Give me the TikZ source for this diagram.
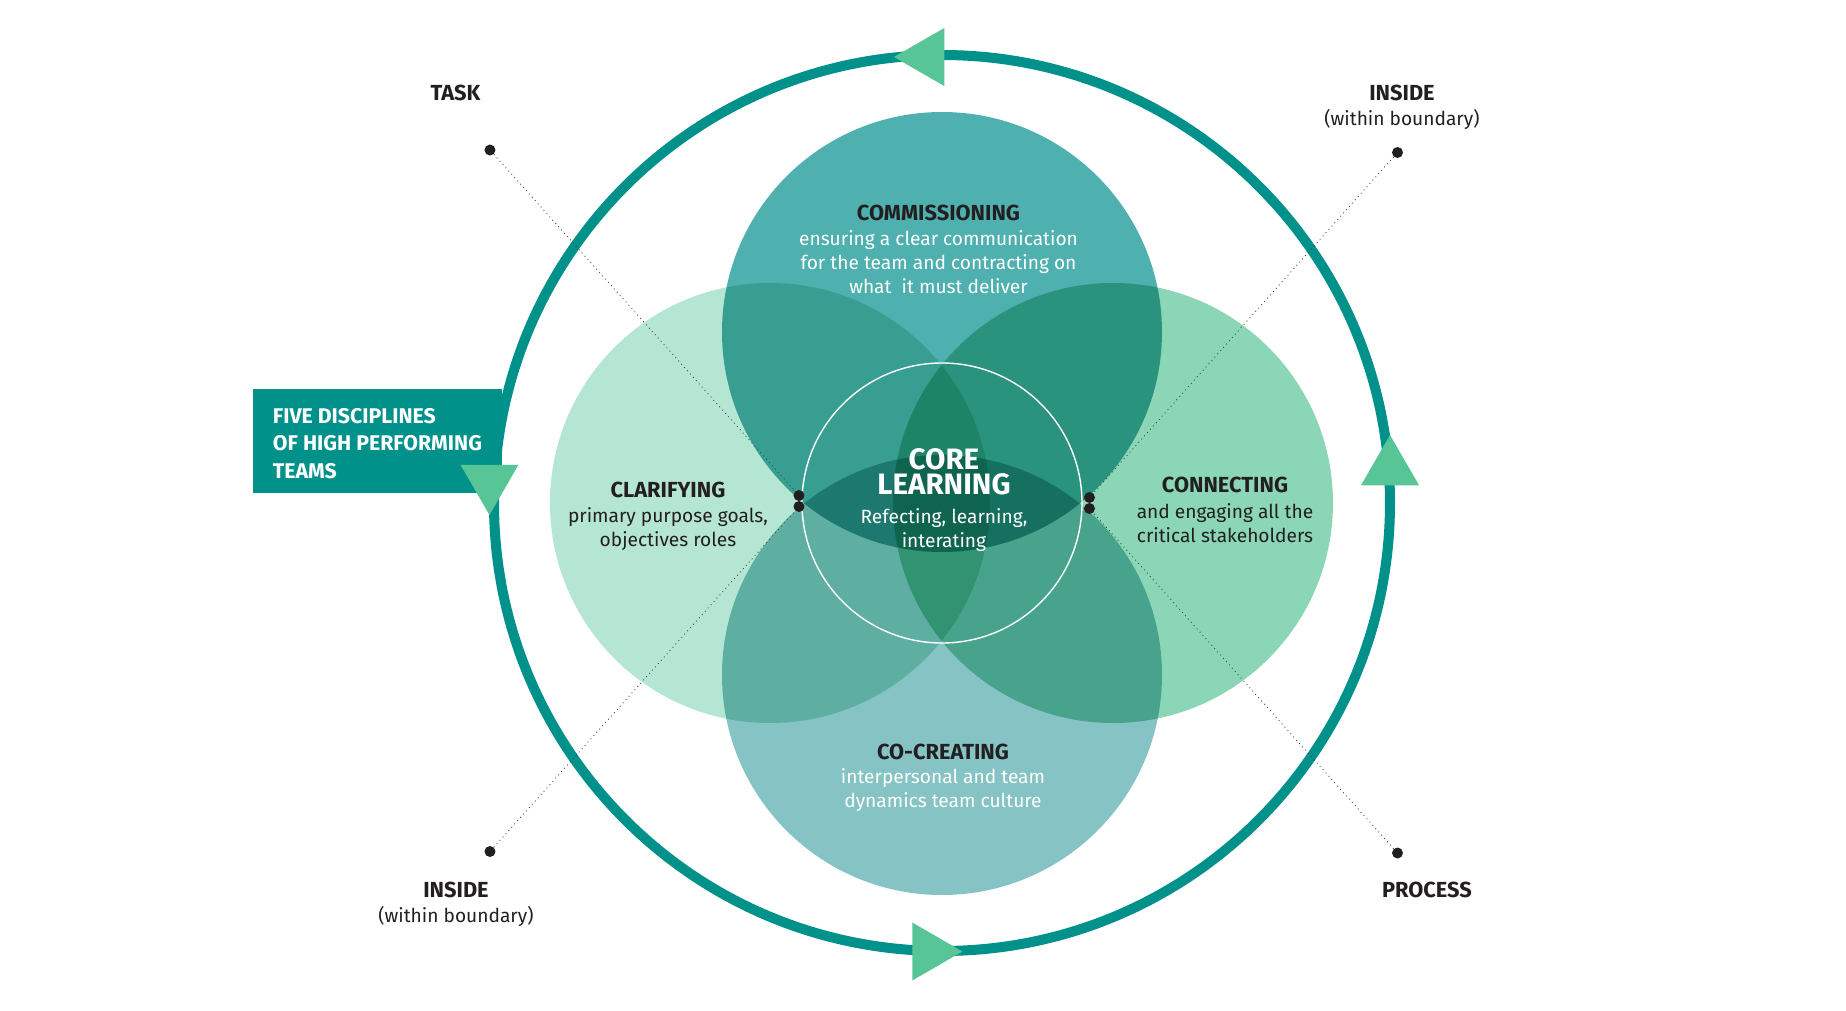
\documentclass[tikz,border=0pt]{standalone}
\usepackage{fontspec}
\setmainfont{Fira Sans}
\usepackage{xcolor}
\usepackage{tikz}
\usetikzlibrary{shapes.geometric, positioning}

\definecolor{ringteal}{HTML}{00918B}
\definecolor{arrowgreen}{HTML}{58C597}
\definecolor{commcol}{HTML}{4FB0B0}
\definecolor{clarcol}{HTML}{B5E6D3}
\definecolor{conncol}{HTML}{8AD6B6}
\definecolor{cocrcol}{HTML}{85C3C4}
\definecolor{ink}{HTML}{231F20}

\begin{document}
\begin{tikzpicture}[
    disc_style/.style={circle, minimum size=8.8cm, inner sep=0pt, outer sep=0pt},
    ring_style/.style={circle, draw=ringteal, line width=5.7pt, minimum size=17.92cm, inner sep=0pt},
    core_style/.style={circle, draw=white, line width=0.8pt, minimum size=5.6cm, inner sep=0pt},
    tri_style/.style={regular polygon, regular polygon sides=3, fill=arrowgreen, minimum size=1.34cm, inner sep=0pt},
    dot_style/.style={circle, fill=ink, minimum size=0.22cm, inner sep=0pt},
    guide_style/.style={draw=ink!85, dotted, line width=0.5pt},
    title_style/.style={font=\bfseries\fontsize{12.4}{14}\selectfont, text=ink, inner sep=0pt},
    core_title_style/.style={font=\bfseries\fontsize{16.8}{17}\selectfont, text=white, inner sep=0pt},
    body_style/.style={font=\fontsize{10.9}{13.7}\selectfont, align=center, inner sep=0pt},
    box_style/.style={rectangle, fill=ringteal, minimum width=4.98cm, minimum height=2.08cm, inner sep=0pt},
    box_text_style/.style={text=white, font=\bfseries\fontsize{12.1}{15.6}\selectfont, align=left, inner sep=0pt}
]

\useasboundingbox (-18.84,-10.14) rectangle (18.08,10.06);

% Title box
\node[box_style] (title_box) at (-11.29,1.24) {};
\node[box_text_style, right=0.4cm of title_box.west, yshift=-0.05cm] (title_text) {FIVE DISCIPLINES\\OF HIGH PERFORMING\\TEAMS};

% Outer ring with direction marks
\node[ring_style] (ring) at (0,0) {};
\node[tri_style, rotate=90] (tri_top) at (-0.29,8.92) {};
\node[tri_style, rotate=-90] (tri_bottom) at (-0.26,-8.97) {};
\node[tri_style] (tri_right) at (8.96,0.69) {};
\node[tri_style, rotate=180] (tri_left) at (-9.05,0.43) {};

% The four disciplines
\begin{scope}[blend mode=multiply]
    \node[disc_style, fill=commcol] (comm) at (0,3.42) {};
    \node[disc_style, fill=clarcol] (clar) at (-3.44,0) {};
    \node[disc_style, fill=conncol] (conn) at (3.42,0) {};
    \node[disc_style, fill=cocrcol] (cocr) at (0,-3.44) {};
\end{scope}

% Core learning circle
\node[core_style] (core) at (0,0) {};

% Corner dots and inner dots
\node[dot_style] (task_dot) at (-9.04,7.06) {};
\node[dot_style] (inside_tr_dot) at (9.11,7.01) {};
\node[dot_style] (inside_bl_dot) at (-9.04,-6.97) {};
\node[dot_style] (process_dot) at (9.11,-7.0) {};
\node[dot_style] (core_dot_lt) at (-2.86,0.15) {};
\node[dot_style] (core_dot_lb) at (-2.86,-0.07) {};
\node[dot_style] (core_dot_rt) at (2.95,0.11) {};
\node[dot_style] (core_dot_rb) at (2.95,-0.11) {};

% Dotted guide lines
\draw[guide_style] (task_dot) -- (core_dot_lt);
\draw[guide_style] (inside_bl_dot) -- (core_dot_lb);
\draw[guide_style] (inside_tr_dot) -- (core_dot_rt);
\draw[guide_style] (process_dot) -- (core_dot_rb);

% Texts in the circles
\node[title_style] (comm_title) at (-0.07,5.80) {COMMISSIONING};
\node[body_style, text=white] (comm_text) at (-0.07,4.81) {ensuring a clear communication\\for the team and contracting on\\what\ \ it must deliver};
\node[title_style] (clar_title) at (-5.48,0.27) {CLARIFYING};
\node[body_style, text=ink] (clar_text) at (-5.48,-0.52) {primary purpose goals,\\objectives roles};
\node[title_style] (conn_title) at (5.66,0.36) {CONNECTING};
\node[body_style, text=ink] (conn_text) at (5.66,-0.40) {and engaging all the\\critical stakeholders};
\node[title_style] (cocr_title) at (0.02,-4.98) {CO-CREATING};
\node[body_style, text=white] (cocr_text) at (0.02,-5.75) {interpersonal and team\\dynamics team culture};
\node[core_title_style] (core_title) at (0.04,0.87) {CORE};
\node[core_title_style] (core_title_2) at (0.04,0.37) {LEARNING};
\node[body_style, text=white] (core_text) at (0.04,-0.55) {Refecting, learning,\\interating};

% Corner labels
\node[title_style] (task_label) at (-9.73,8.2) {TASK};
\node[title_style] (inside_tr_label) at (9.2,8.2) {INSIDE};
\node[body_style, text=ink, below=0.16cm of inside_tr_label] (inside_tr_note) {(within boundary)};
\node[title_style] (inside_bl_label) at (-9.72,-7.74) {INSIDE};
\node[body_style, text=ink, below=0.16cm of inside_bl_label] (inside_bl_note) {(within boundary)};
\node[title_style] (process_label) at (9.7,-7.74) {PROCESS};

\end{tikzpicture}
\end{document}
